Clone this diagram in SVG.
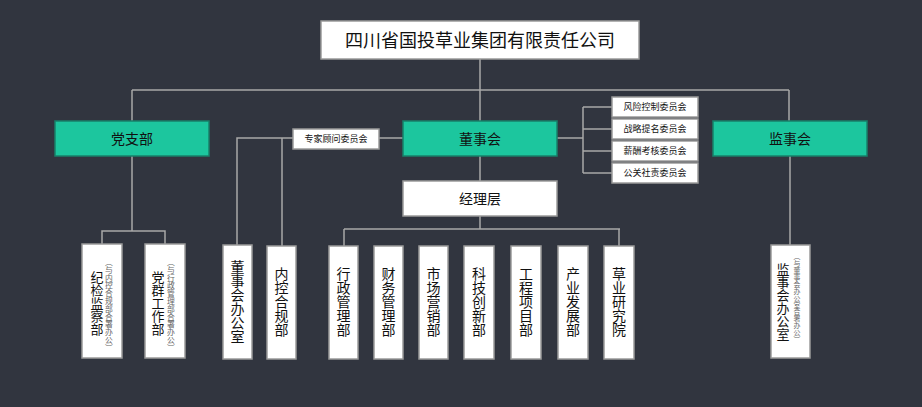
<svg xmlns="http://www.w3.org/2000/svg" width="922" height="407" viewBox="0 0 922 407">
<style>
text{font-family:"Noto Sans CJK SC","Noto Sans",sans-serif;fill:#111;}
.w{fill:#fff;stroke:#9a9a9a;stroke-width:1.5;}
.g{fill:#1CC69E;stroke:#17806A;stroke-width:1.5;}
.c{fill:none;stroke:#a8a8a8;stroke-width:1.5;}
.v{writing-mode:vertical-rl;text-anchor:middle;}
.s{fill:#666;}
</style>
<rect width="922" height="407" fill="#31353F"/>
<g id="connectors">
<path class="c" d="M480 59V90M132 90H789M132 90V121M789 90V121M480 90V121"/>
<path class="c" d="M132 156V231H102V244M132 231H165V244"/>
<path class="c" d="M790 156V245"/>
<path class="c" d="M403 138H379M293 138H237V245M282 138V246"/>
<path class="c" d="M557 138H583M583 107V173M583 107H612M583 129H612M583 151H612M583 173H612"/>
<path class="c" d="M480 156V181M480 216V229M344 229H620M344 229V246M619 229V246"/>
</g>
<g id="n-root"><rect class="w" x="321" y="21" width="318" height="38"/><text x="480" y="46.5" font-size="18" text-anchor="middle">四川省国投草业集团有限责任公司</text></g>
<g id="n-dzb"><rect class="g" x="55" y="121" width="154" height="35"/><text x="132" y="143.5" font-size="14" text-anchor="middle">党支部</text></g>
<g id="n-dsh"><rect class="g" x="403" y="121" width="154" height="35"/><text x="480" y="143.5" font-size="14" text-anchor="middle">董事会</text></g>
<g id="n-jsh"><rect class="g" x="713" y="121" width="154" height="35"/><text x="790" y="143.5" font-size="14" text-anchor="middle">监事会</text></g>
<g id="n-zjgw"><rect class="w" x="293" y="129" width="86" height="20"/><text x="336" y="142" font-size="9" text-anchor="middle">专家顾问委员会</text></g>
<g id="n-fxkz"><rect class="w" x="612" y="97" width="86" height="20"/><text x="655" y="110" font-size="9" text-anchor="middle">风险控制委员会</text></g>
<g id="n-zltm"><rect class="w" x="612" y="119" width="86" height="20"/><text x="655" y="132" font-size="9" text-anchor="middle">战略提名委员会</text></g>
<g id="n-xckh"><rect class="w" x="612" y="141" width="86" height="20"/><text x="655" y="154" font-size="9" text-anchor="middle">薪酬考核委员会</text></g>
<g id="n-ggsz"><rect class="w" x="612" y="163" width="86" height="20"/><text x="655" y="176" font-size="9" text-anchor="middle">公关社责委员会</text></g>
<g id="n-jlc"><rect class="w" x="403" y="181" width="154" height="35"/><text x="480" y="203.5" font-size="14" text-anchor="middle">经理层</text></g>
<g id="n-jjjc"><rect class="w" x="82" y="244" width="40" height="114"/><text class="v" x="97" y="303" font-size="13">纪检监察部</text><text class="v s" x="109" y="305" font-size="7.8">（与内控合规部合署办公）</text></g>
<g id="n-dqgz"><rect class="w" x="145" y="244" width="40" height="114"/><text class="v" x="158" y="303" font-size="13">党群工作部</text><text class="v s" x="171" y="305" font-size="7.8">（与行政管理部合署办公）</text></g>
<g id="n-dshbgs"><rect class="w" x="223" y="245" width="29" height="114"/><text class="v" x="237.5" y="302" font-size="14">董事会办公室</text></g>
<g id="n-nkhg"><rect class="w" x="267" y="246" width="29" height="113"/><text class="v" x="281.5" y="302" font-size="14">内控合规部</text></g>
<g id="n-xz"><rect class="w" x="329" y="246" width="29" height="113"/><text class="v" x="343.5" y="302" font-size="14">行政管理部</text></g>
<g id="n-cw"><rect class="w" x="374" y="246" width="29" height="113"/><text class="v" x="388.5" y="302" font-size="14">财务管理部</text></g>
<g id="n-sc"><rect class="w" x="419" y="246" width="29" height="113"/><text class="v" x="433.5" y="302" font-size="14">市场营销部</text></g>
<g id="n-kj"><rect class="w" x="464" y="246" width="30" height="113"/><text class="v" x="479" y="302" font-size="14">科技创新部</text></g>
<g id="n-gc"><rect class="w" x="511" y="246" width="30" height="113"/><text class="v" x="526" y="302" font-size="14">工程项目部</text></g>
<g id="n-cy"><rect class="w" x="558" y="246" width="30" height="113"/><text class="v" x="573" y="302" font-size="14">产业发展部</text></g>
<g id="n-cyy"><rect class="w" x="604" y="246" width="30" height="113"/><text class="v" x="619" y="302" font-size="14">草业研究院</text></g>
<g id="n-jshbgs"><rect class="w" x="771" y="245" width="39" height="113"/><text class="v" x="783" y="302" font-size="13">监事会办公室</text><text class="v s" x="797" y="298" font-size="6.9">（与董事会办公室合署办公）</text></g>
</svg>
